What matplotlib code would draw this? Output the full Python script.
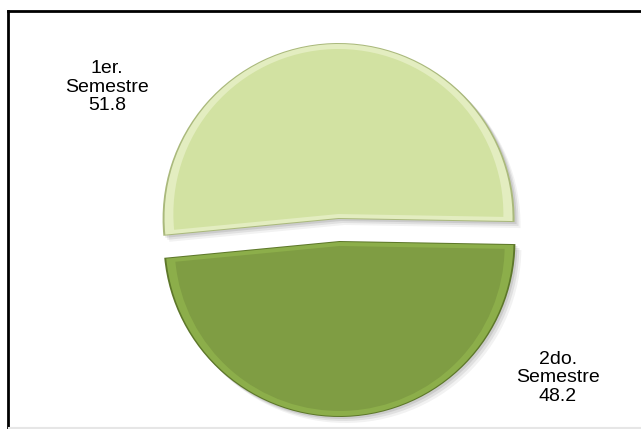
import matplotlib
matplotlib.use("Agg")
import matplotlib.pyplot as plt
from matplotlib.lines import Line2D

# ---------------- data ----------------
labels = ["1er.\nSemestre", "2do.\nSemestre"]
values = [51.8, 48.2]
face_colors = ["#d2e2a2", "#7f9d43"]
rim_colors = ["#e3edc0", "#8cae4a"]
edge_colors = ["#aab97c", "#5d772a"]

W, H = 641, 429
cx, cy = 339, 230          # pie centre, pixels from top
radius = 176
offset = 11                # explode distance in pixels (data units)
start = -1                 # degrees

fig = plt.figure(figsize=(W / 100, H / 100), dpi=100)
ax = fig.add_axes([0, 0, 1, 1])

centre = (cx, H - cy)

# soft drop shadow
for k, a in [(6, 0.05), (4, 0.07), (2, 0.09)]:
    ax.pie(values, center=(centre[0] + k, centre[1] - k), radius=radius,
           startangle=start, explode=[offset] * 2,
           colors=["#000000"] * 2, frame=True,
           wedgeprops=dict(linewidth=0, alpha=a))

# outer rim (darker edge)
ax.pie(values, center=centre, radius=radius, startangle=start,
       explode=[offset] * 2, colors=edge_colors, frame=True,
       wedgeprops=dict(linewidth=0))
# bevel highlight
ax.pie(values, center=centre, radius=radius - 2, startangle=start,
       explode=[offset + 1] * 2, colors=rim_colors, frame=True,
       wedgeprops=dict(linewidth=0))
# main face
ax.pie(values, center=centre, radius=radius - 11, startangle=start,
       explode=[offset + 5] * 2, colors=face_colors, frame=True,
       wedgeprops=dict(linewidth=0))

ax.set_xlim(0, W)
ax.set_ylim(0, H)
ax.set_aspect("equal")
ax.axis("off")

# ---------------- labels ----------------
label_pos = [(107, 87), (558, 378)]
for lab, v, (x, y) in zip(labels, values, label_pos):
    ax.text(x, H - y, f"{lab}\n{v}", ha="center", va="center",
            fontsize=14, family="Liberation Sans", linespacing=1.15)

# ---------------- frame ----------------
fig.add_artist(Line2D([8 / W, 8 / W], [0, 1 - 11 / H], color="black",
                      linewidth=2, transform=fig.transFigure))
fig.add_artist(Line2D([8 / W, 1], [1 - 11 / H, 1 - 11 / H], color="black",
                      linewidth=2, transform=fig.transFigure))
fig.add_artist(Line2D([9 / W, 1], [1.5 / H, 1.5 / H], color="#e6e6e6",
                      linewidth=1.5, transform=fig.transFigure))

fig.savefig("out.png", dpi=100)
